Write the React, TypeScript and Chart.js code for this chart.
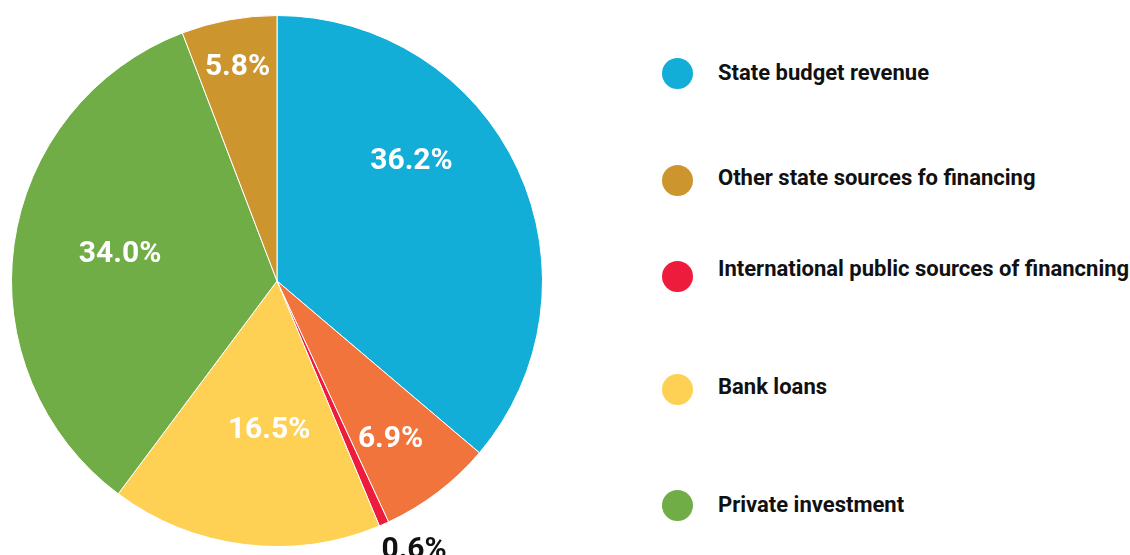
import React, { useEffect, useRef } from "react";
import { Chart, registerables } from "chart.js";

Chart.register(...registerables);

// ---- data ----
const categories = [
  "State budget revenue",
  "Other sources",
  "International public sources of financning",
  "Bank loans",
  "Private investment",
  "Other state sources fo financing",
];
const values = [36.2, 6.9, 0.6, 16.5, 34.0, 5.8];
const sliceColors = ["#12AED8", "#F0743B", "#ED1C3D", "#FED053", "#71AD47", "#CD952E"];

// legend entries (the orange slice has no legend entry in the original)
const legendLabels = [
  "State budget revenue",
  "Other state sources fo financing",
  "International public sources of financning",
  "Bank loans",
  "Private investment",
];
const legendColors = ["#12AED8", "#CD952E", "#ED1C3D", "#FED053", "#71AD47"];
const legendCircleY = [73, 180, 276, 389, 505];
const legendTextY = [73, 178, 269, 387, 505];

// label placement styles (fraction of radius, angular shift in degrees)
const labelTextColors = ["#FFFFFF", "#FFFFFF", "#111111", "#FFFFFF", "#FFFFFF", "#FFFFFF"];
const labelRadius = [0.68, 0.73, 1.135, 0.56, 0.6, 0.82];
const labelShiftDeg = [-17, 1.4, -3.3, -4, 2, 0];

const labelPlugin = {
  id: "sliceLabels",
  afterDatasetsDraw(chart: any) {
    const ctx = chart.ctx;
    const meta = chart.getDatasetMeta(0);
    ctx.save();
    ctx.font = "bold 30px Roboto";
    ctx.textAlign = "center";
    ctx.textBaseline = "middle";
    meta.data.forEach((arc: any, i: number) => {
      const p = arc.getProps(["x", "y", "startAngle", "endAngle", "outerRadius"], true);
      const mid = (p.startAngle + p.endAngle) / 2 + (labelShiftDeg[i] * Math.PI) / 180;
      const r = p.outerRadius * labelRadius[i];
      const x = p.x + r * Math.cos(mid);
      const y = p.y + r * Math.sin(mid);
      ctx.fillStyle = labelTextColors[i];
      ctx.fillText(values[i].toFixed(1) + "%", x, y + 1);
    });
    ctx.restore();
  },
};

export default function App() {
  const canvasRef = useRef<HTMLCanvasElement | null>(null);

  useEffect(() => {
    document.body.style.margin = "0";
    const chart = new Chart(canvasRef.current as HTMLCanvasElement, {
      type: "pie",
      data: {
        labels: categories,
        datasets: [
          {
            data: values,
            backgroundColor: sliceColors,
            borderColor: "#FFFFFF",
            borderWidth: 1,
          },
        ],
      },
      options: {
        animation: false,
        responsive: false,
        maintainAspectRatio: false,
        layout: { padding: { left: 11, right: 11, top: 15, bottom: 8 } },
        plugins: {
          legend: { display: false },
          tooltip: { enabled: false },
        },
      },
      plugins: [labelPlugin],
    });
    return () => chart.destroy();
  }, []);

  return (
    <div
      style={{
        position: "relative",
        width: 1130,
        height: 555,
        background: "#FFFFFF",
        overflow: "hidden",
        fontFamily: "Roboto, sans-serif",
      }}
    >
      <canvas
        ref={canvasRef}
        width={554}
        height={555}
        style={{ position: "absolute", left: 0, top: 0, width: 554, height: 555 }}
      />
      {legendLabels.map((lab, i) => (
        <React.Fragment key={lab}>
          <div
            style={{
              position: "absolute",
              left: 662,
              top: legendCircleY[i] - 15.5,
              width: 31,
              height: 31,
              borderRadius: "50%",
              background: legendColors[i],
            }}
          />
          <div
            style={{
              position: "absolute",
              left: 718,
              top: legendTextY[i] - 15,
              height: 30,
              lineHeight: "30px",
              fontSize: 22,
              fontWeight: 700,
              color: "#111111",
              whiteSpace: "nowrap",
            }}
          >
            {lab}
          </div>
        </React.Fragment>
      ))}
    </div>
  );
}
